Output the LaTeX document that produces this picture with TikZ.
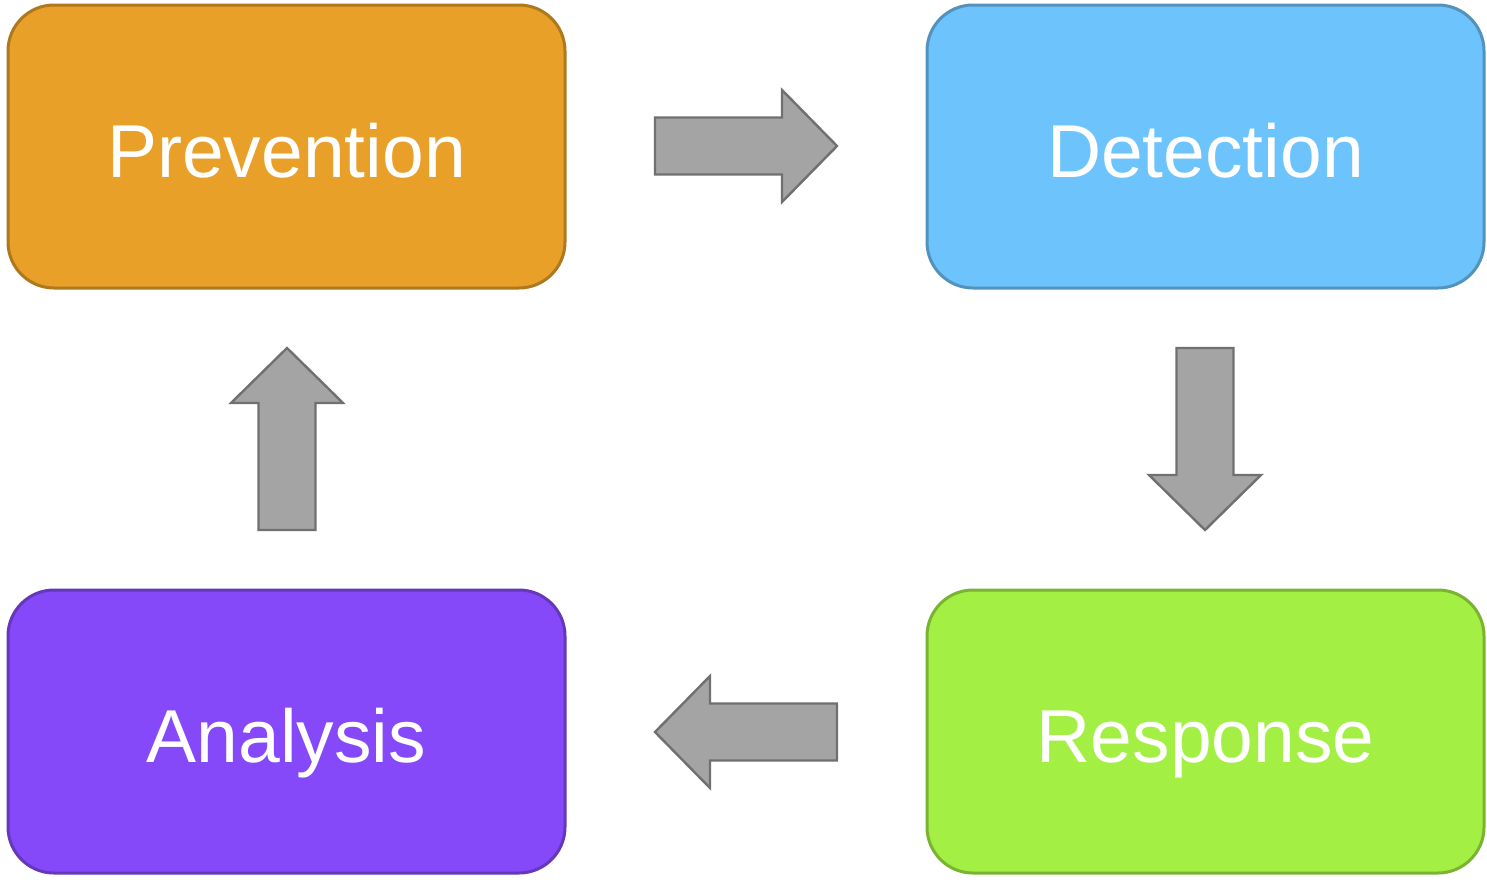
\documentclass[tikz,border=0pt]{standalone}
\usepackage{fontspec}
\setmainfont{Liberation Sans}

\definecolor{prevorange}{HTML}{E8A028}
\definecolor{detblue}{HTML}{6DC3FB}
\definecolor{anapurple}{HTML}{8549FA}
\definecolor{respgreen}{HTML}{A3EF43}
\definecolor{arrowgray}{HTML}{A4A4A4}
\definecolor{arrowedge}{HTML}{707070}

\tikzset{
  phase/.style={rectangle, rounded corners=23pt, minimum width=278.5pt,
    minimum height=141.5pt, inner sep=0pt, fill=#1, draw=#1!75!black,
    line width=1.5pt, text=white, font=\fontsize{37.5}{40}\selectfont,
    text height=30.5pt, text depth=0pt},
  flow/.style={fill=arrowgray, draw=arrowedge, line width=1.2pt, line join=miter},
  blockarrow/.pic={
    \draw [flow] (0,0) -- (-55,-56) -- (-55,-28.5) -- (-182,-28.5)
      -- (-182,28.5) -- (-55,28.5) -- (-55,56) -- cycle;
  }
}

\begin{document}
\begin{tikzpicture}[x=0.5pt,y=-0.5pt]
\useasboundingbox (0,0) rectangle (1487,879);
% the four phases
\node [phase=prevorange] (prevention) at (286.5,146.5) {Prevention};
\node [phase=detblue] (detection) at (1205.5,146.5) {Detection};
\node [phase=respgreen] (response) at (1205.5,731.5) {Response};
\node [phase=anapurple] (analysis) at (286.5,731.5) {Analysis};
% the cycle arrows, tip at the given point
\pic (todetection) at (837,146) {blockarrow};
\pic [rotate=-90] (toresponse) at (1205,530) {blockarrow};
\pic [rotate=180] (toanalysis) at (655,732) {blockarrow};
\pic [rotate=90] (toprevention) at (287,348) {blockarrow};
\end{tikzpicture}
\end{document}
